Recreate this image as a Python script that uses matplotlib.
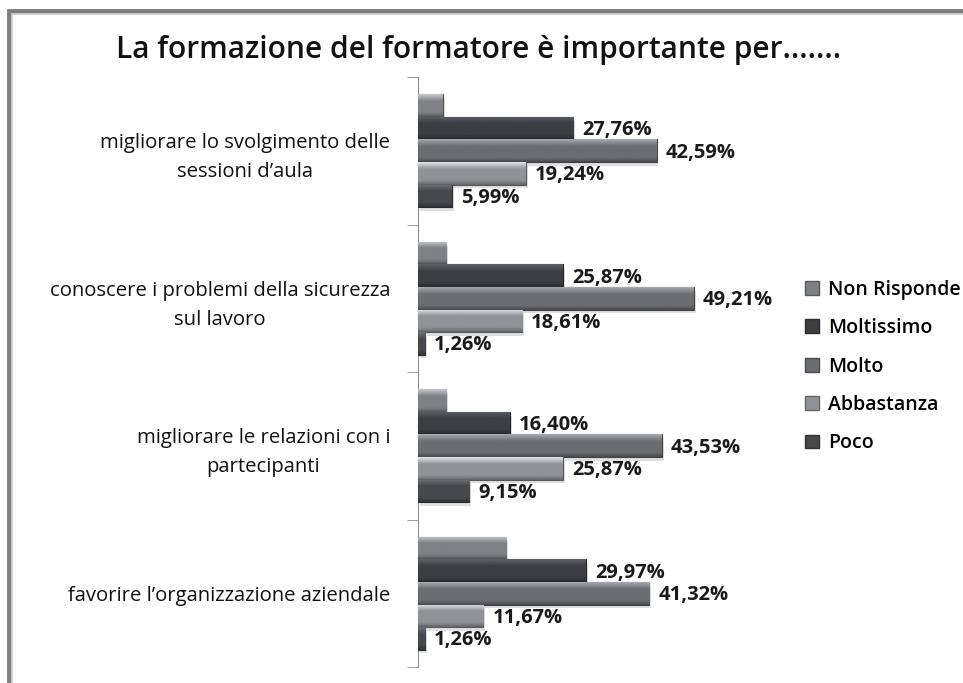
import numpy as np
import matplotlib
matplotlib.use("Agg")
import matplotlib.pyplot as plt
import matplotlib.colors as mcolors
from matplotlib.patches import Rectangle, Patch

plt.rcParams['font.family'] = ['Lato', 'DejaVu Sans']

categories = ["migliorare lo svolgimento delle\nsessioni d\u2019aula",
              "conoscere i problemi della sicurezza\nsul lavoro",
              "migliorare le relazioni con i\npartecipanti",
              "favorire l\u2019organizzazione aziendale"]
series = ["Non Risponde", "Moltissimo", "Molto", "Abbastanza", "Poco"]
non_risponde = [4.42, 5.05, 5.05, 15.78]
moltissimo = [27.76, 25.87, 16.40, 29.97]
molto = [42.59, 49.21, 43.53, 41.32]
abbastanza = [19.24, 18.61, 25.87, 11.67]
poco = [5.99, 1.26, 9.15, 1.26]
values = [non_risponde, moltissimo, molto, abbastanza, poco]
show_labels = [False, True, True, True, True]
colors = ["#7e8186", "#3b3e43", "#6a6d72", "#8f9297", "#45484d"]

fig = plt.figure(figsize=(9.63, 6.83), dpi=100)
ax = fig.add_axes([418/963, 1-667/683, 336/963, 590/683])

# outer frame
fig.patches.append(Rectangle((9/963, -0.2), 1.2, 1.2 - 11/683, transform=fig.transFigure,
                             fill=False, ec="#7f7f7f", lw=3.5, zorder=0))
fig.patches.append(Rectangle((12/963, -0.2), 1.2, 1.2 - 14/683, transform=fig.transFigure,
                             fill=False, ec="#d0d0d0", lw=1.2, zorder=0))


def bevel(bar, color):
    x, y, w, h = bar.get_x(), bar.get_y(), bar.get_width(), bar.get_height()
    base = np.array(mcolors.to_rgb(color))
    t = np.linspace(0, 1, 40)
    f = np.ones_like(t)
    f[t < 0.3] = 1 + 0.55 * (1 - t[t < 0.3] / 0.3)
    f[t > 0.8] = 1 - 0.3 * (t[t > 0.8] - 0.8) / 0.2
    img = np.clip(base[None, :] * f[:, None], 0, 1)[:, None, :]
    im = ax.imshow(img, extent=(x, x + w, y + h, y), aspect='auto',
                   interpolation='bilinear', zorder=3)
    im.set_clip_path(bar)


centers = np.arange(len(categories))
h = 0.153
for i, (name, vals) in enumerate(zip(series, values)):
    pos = centers + (i - 2) * h
    # soft shadow
    ax.barh(pos + 0.025, vals, height=h, left=0.35, color="#000000", alpha=0.12,
            zorder=2, lw=0)
    bars = ax.barh(pos, vals, height=h, color=colors[i],
                   edgecolor=np.array(mcolors.to_rgb(colors[i])) * 0.6,
                   lw=0.8, zorder=3)
    for b in bars:
        bevel(b, colors[i])
    if show_labels[i]:
        for p, v in zip(pos, vals):
            ax.annotate(f"{v:.2f}%".replace(".", ","), xy=(v, p), xytext=(6.5, -1.5),
                        textcoords="offset points", va="center", ha="left",
                        fontsize=14.5, fontweight="bold", family="Open Sans",
                        color="#1a1a1a", zorder=5)

ax.set_xlim(0, 60)
ax.set_ylim(len(categories) - 0.5, -0.5)
ax.set_xticks([20, 40, 60])
ax.xaxis.set_visible(False)
ax.grid(axis="x", color="#8a8ea0", lw=1.0, zorder=1)
ax.set_axisbelow(True)
for s in ["top", "right", "bottom"]:
    ax.spines[s].set_visible(False)
ax.spines["left"].set_color("#8c8c8c")
ax.set_yticks(centers)
ax.set_yticklabels(categories, fontsize=14.6, color="#111111", family="Open Sans",
                   multialignment="center", linespacing=1.6)
ax.tick_params(axis="y", which="major", length=0, pad=20)
ax.set_yticks(np.arange(len(categories) + 1) - 0.5, minor=True)
ax.tick_params(axis="y", which="minor", length=8, color="#8c8c8c")

fig.text(0.497, 1 - 50/683, "La formazione del formatore \u00e8 importante per.......",
         ha="center", va="center", fontsize=21.5, fontweight="semibold",
         family="Open Sans", color="#111111")

handles = [Patch(facecolor=c, edgecolor=np.array(mcolors.to_rgb(c)) * 0.7) for c in colors]
fig.legend(handles, series, loc="center left", bbox_to_anchor=(805/963, 1 - 366.5/683),
           frameon=False, handlelength=0.7, handleheight=0.7,
           handletextpad=0.5, labelspacing=0.95, borderpad=0, borderaxespad=0,
           prop={"family": "Open Sans", "weight": "semibold", "size": 14})

fig.savefig("out.png", dpi=100)
